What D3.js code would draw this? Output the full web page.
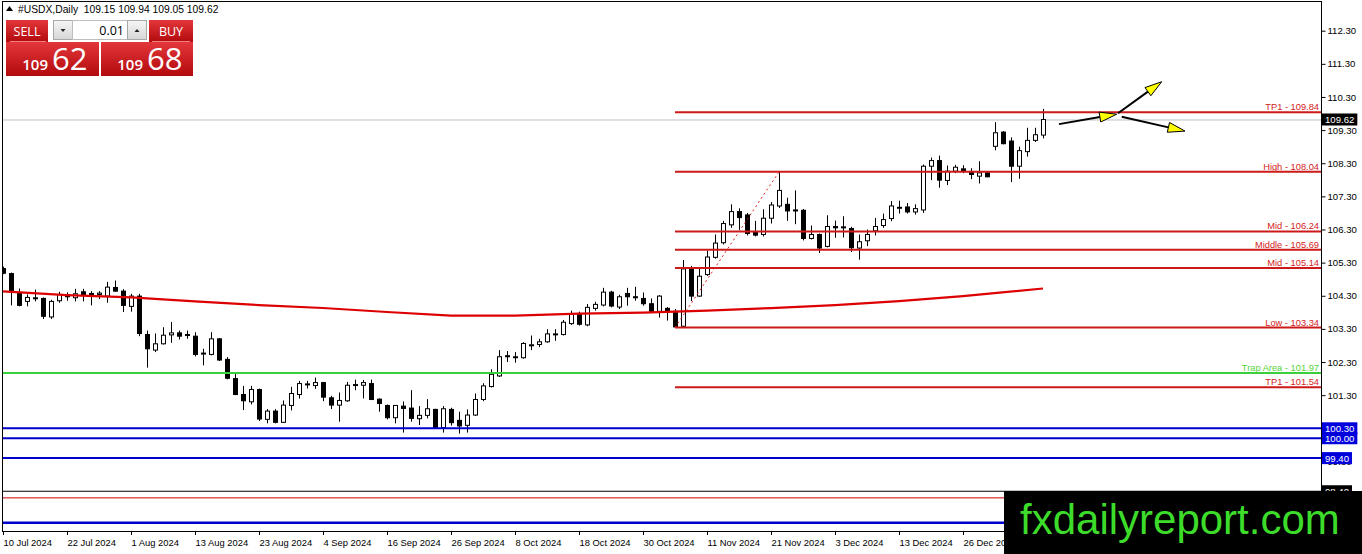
<!DOCTYPE html>
<html lang="en">
<head>
<meta charset="UTF-8">
<title>#USDX, Daily</title>
<script src="https://cdn.jsdelivr.net/npm/d3@7"></script>
<style>
  html, body { margin: 0; padding: 0; background: #fff; }
  svg { display: block; }
</style>
</head>
<body>
<div id="chart"></div>
<script>
// Daily candles [open, high, low, close], bar 0 = 10 Jul 2024
const candles = [
  [105.12,105.18,104.95,104.98],[104.97,105.00,104.01,104.44],[104.39,104.52,103.98,104.01],[104.13,104.34,103.98,104.25],
  [104.23,104.49,104.13,104.24],[104.22,104.25,103.60,103.68],[103.66,104.18,103.60,104.13],[104.15,104.42,104.09,104.34],
  [104.28,104.40,104.15,104.30],[104.24,104.51,104.13,104.36],[104.42,104.51,104.13,104.34],[104.36,104.44,104.01,104.37],
  [104.34,104.44,104.20,104.38],[104.29,104.72,104.09,104.56],[104.55,104.76,104.42,104.44],[104.44,104.50,103.81,104.01],
  [103.98,104.36,103.82,104.29],[104.29,104.36,103.08,103.16],[103.13,103.25,102.13,102.70],[102.66,103.16,102.60,102.85],
  [102.85,103.35,102.83,103.11],[103.12,103.51,102.88,103.18],[103.18,103.25,102.98,103.08],[103.13,103.25,103.00,103.11],
  [103.08,103.20,102.47,102.53],[102.55,102.70,102.20,102.57],[102.53,103.20,102.50,103.00],[103.00,103.02,102.33,102.36],
  [102.38,102.45,101.78,101.81],[101.80,101.95,101.30,101.32],[101.32,101.58,100.85,101.13],[101.10,101.58,101.02,101.47],
  [101.47,101.50,100.52,100.58],[100.57,100.88,100.45,100.82],[100.82,100.88,100.45,100.48],[100.48,101.14,100.46,101.00],
  [100.99,101.55,100.84,101.35],[101.32,101.73,101.20,101.65],[101.62,101.73,101.50,101.64],[101.59,101.83,101.49,101.68],
  [101.68,101.70,101.12,101.24],[101.22,101.28,100.88,101.00],[101.00,101.38,100.50,101.14],[101.13,101.70,101.10,101.60],
  [101.60,101.77,101.45,101.62],[101.60,101.76,101.20,101.68],[101.65,101.77,101.15,101.17],[101.18,101.20,100.80,101.05],
  [100.99,101.02,100.57,100.62],[100.62,101.00,100.45,100.99],[100.97,101.11,100.17,100.90],[100.91,101.45,100.50,100.60],
  [100.59,100.97,100.40,100.69],[100.69,101.18,100.60,100.89],[100.87,100.89,100.30,100.32],[100.32,100.97,100.17,100.89],
  [100.87,100.92,100.38,100.47],[100.54,100.80,100.14,100.37],[100.39,100.87,100.17,100.70],[100.70,101.35,100.67,101.17],
  [101.17,101.66,101.12,101.58],[101.56,102.08,101.53,101.93],[101.88,102.66,101.85,102.46],[102.49,102.63,102.30,102.47],
  [102.44,102.60,102.28,102.46],[102.43,102.90,102.40,102.86],[102.80,103.10,102.66,102.82],[102.83,103.00,102.75,102.91],
  [102.91,103.29,102.88,103.15],[103.13,103.29,102.94,103.15],[103.13,103.57,103.10,103.50],[103.46,103.85,103.42,103.75],
  [103.75,103.82,103.40,103.44],[103.42,104.05,103.38,103.95],[103.92,104.12,103.85,104.04],[104.02,104.54,103.98,104.41],
  [104.41,104.45,103.95,103.99],[103.96,104.33,103.90,104.27],[104.37,104.54,104.00,104.27],[104.27,104.57,104.15,104.25],
  [104.22,104.40,104.00,104.06],[104.06,104.22,103.80,103.83],[103.83,104.32,103.64,104.29],[103.92,103.96,103.55,103.82],
  [103.83,103.90,103.34,103.36],[103.38,105.38,103.34,105.11],[105.12,105.20,104.14,104.29],[104.29,105.12,104.27,104.89],
  [104.94,105.66,104.90,105.47],[105.46,106.15,105.42,105.89],[105.90,106.56,105.85,106.48],[106.44,107.06,106.35,106.84],
  [106.84,106.94,106.29,106.66],[106.74,106.80,106.12,106.18],[106.23,106.56,106.09,106.13],[106.15,106.91,106.09,106.64],
  [106.64,107.13,106.48,107.04],[107.01,108.04,106.95,107.48],[107.06,107.26,106.56,106.86],[106.89,107.48,106.46,106.87],
  [106.88,106.92,105.97,106.03],[106.03,106.42,106.00,106.15],[106.15,106.18,105.59,105.74],[105.79,106.73,105.76,106.39],
  [106.39,106.57,106.05,106.35],[106.36,106.70,106.06,106.38],[106.33,106.38,105.62,105.75],[105.74,106.15,105.39,105.93],
  [105.96,106.30,105.80,106.15],[106.26,106.65,106.12,106.39],[106.42,106.78,106.35,106.60],[106.63,107.16,106.55,107.01],
  [106.95,107.17,106.78,106.97],[106.98,107.10,106.78,106.83],[106.83,107.06,106.75,106.93],[106.89,108.26,106.80,108.21],
  [108.21,108.47,107.79,108.38],[108.38,108.53,107.56,107.79],[107.78,108.23,107.64,108.06],[108.06,108.25,108.00,108.18],
  [108.13,108.24,108.00,108.06],[108.03,108.15,107.82,107.96],[107.91,108.36,107.69,108.01],[108.01,108.02,107.88,107.89],
  [108.81,109.54,108.69,109.22],[109.24,109.27,108.87,108.89],[108.97,109.08,107.73,108.21],[108.21,108.80,107.83,108.68],
  [108.65,109.37,108.50,108.99],[108.99,109.37,108.94,109.16],[109.15,109.94,109.05,109.62]
];

const symbol = '#USDX,Daily';
const bidPrice = 109.62;
const askPrice = 109.68;
const lotSize = '0.01';

// moving average
const maIndex = [0, 8, 16, 24, 32, 40, 48, 56, 64, 72, 80, 88, 96, 104, 112, 120, 130];
const maValues = [104.43, 104.32, 104.25, 104.13, 104.02, 103.93, 103.81, 103.70, 103.70,
                  103.76, 103.79, 103.85, 103.93, 104.02, 104.14, 104.29, 104.52];

// fibonacci levels, drawn from the swing low bar to the right edge
const fibStart = 84;
const fibNames = ['TP1', 'High', 'Mid', 'Middle', 'Mid', 'Low', 'TP1'];
const fibValues = [109.84, 108.04, 106.24, 105.69, 105.14, 103.34, 101.54];
const swingLow = [84, 103.34];
const swingHigh = [97, 108.04];

const trapName = 'Trap Area';
const trapValue = 101.97;

const blueLevels = [100.30, 100.00, 99.40, 97.45];
const blueLabeled = [100.30, 100.00, 99.40];
const blackLevel = 98.40;
const thinRedLevel = 98.20;

const priceTicks = [112.30, 111.30, 110.30, 109.30, 108.30, 107.30, 106.30, 105.30,
                    104.30, 103.30, 102.30, 101.30, 100.30, 99.30];
const dateTickIndex = [0, 8, 16, 24, 32, 40, 48, 56, 64, 72, 80, 88, 96, 104, 112, 120];
const dateTickLabels = ['10 Jul 2024', '22 Jul 2024', '1 Aug 2024', '13 Aug 2024', '23 Aug 2024',
  '4 Sep 2024', '16 Sep 2024', '26 Sep 2024', '8 Oct 2024', '18 Oct 2024', '30 Oct 2024',
  '11 Nov 2024', '21 Nov 2024', '3 Dec 2024', '13 Dec 2024', '26 Dec 2024'];

// hand drawn arrows: [fromBar, fromPrice, toBar, toPrice]
const arrows = [
  [132.0, 109.48, 139.21, 109.78],
  [139.38, 109.81, 144.84, 110.76],
  [139.84, 109.70, 147.75, 109.27]
];

const watermark = 'fxdailyreport.com';

// ---------------------------------------------------------------
const width = 1362, height = 554;
const frame = { left: 2, top: 2, right: 1321, bottom: 531 };
const font = '"Liberation Sans", Arial, sans-serif';
const fibColor = '#cc1a1a';

const svg = d3.select('#chart').append('svg')
  .attr('width', width).attr('height', height)
  .style('font-family', font);

const x = d3.scaleLinear().domain([0, candles.length - 1]).range([3, 1043]);
const y = d3.scaleLinear().domain([100.30, 112.30]).range([428.3, 30.7]);

const defs = svg.append('defs');
defs.append('clipPath').attr('id', 'plotClip').append('rect')
  .attr('x', frame.left).attr('y', frame.top)
  .attr('width', frame.right - frame.left).attr('height', frame.bottom - frame.top);

const red = defs.append('linearGradient').attr('id', 'redGrad').attr('x1', 0).attr('y1', 0).attr('x2', 0).attr('y2', 1);
red.append('stop').attr('offset', '0%').attr('stop-color', '#e3363a');
red.append('stop').attr('offset', '100%').attr('stop-color', '#b20a0e');
const grey = defs.append('linearGradient').attr('id', 'greyGrad').attr('x1', 0).attr('y1', 0).attr('x2', 0).attr('y2', 1);
grey.append('stop').attr('offset', '0%').attr('stop-color', '#f6f6f6');
grey.append('stop').attr('offset', '100%').attr('stop-color', '#d6d6d6');

const plot = svg.append('g').attr('clip-path', 'url(#plotClip)');

// current price line
plot.append('line')
  .attr('x1', frame.left).attr('x2', frame.right)
  .attr('y1', y(bidPrice) + 0.5).attr('y2', y(bidPrice) + 0.5)
  .attr('stroke', '#c0c0c0').attr('stroke-width', 1);

// candles
const bars = plot.append('g').selectAll('g').data(candles).join('g');
bars.append('line')
  .attr('x1', (d, i) => Math.round(x(i)) + 0.5).attr('x2', (d, i) => Math.round(x(i)) + 0.5)
  .attr('y1', d => y(d[1])).attr('y2', d => y(d[2]))
  .attr('stroke', '#000').attr('stroke-width', 1);
bars.append('rect')
  .attr('x', (d, i) => Math.round(x(i)) - 1.5)
  .attr('y', d => y(Math.max(d[0], d[3])))
  .attr('width', 4)
  .attr('height', d => Math.max(1, Math.abs(y(d[0]) - y(d[3]))))
  .attr('fill', d => d[3] >= d[0] ? '#fff' : '#000')
  .attr('stroke', '#000').attr('stroke-width', 1);

// moving average
plot.append('path')
  .datum(maIndex.map((b, i) => [b, maValues[i]]))
  .attr('fill', 'none').attr('stroke', '#dd0000').attr('stroke-width', 2.2)
  .attr('d', d3.line().x(d => x(d[0])).y(d => y(d[1])));

// full width levels
function hline(value, color, w) {
  plot.append('line')
    .attr('x1', frame.left).attr('x2', frame.right)
    .attr('y1', y(value)).attr('y2', y(value))
    .attr('stroke', color).attr('stroke-width', w);
}
hline(trapValue, '#3ccf3c', 2);
blueLevels.forEach((v, i) => hline(v, '#0000cc', i === blueLevels.length - 1 ? 2.6 : 2));
hline(blackLevel, '#000', 1);
hline(thinRedLevel, '#cc0000', 1);

// fibonacci lines
plot.append('g').selectAll('line').data(fibValues).join('line')
  .attr('x1', x(fibStart)).attr('x2', frame.right)
  .attr('y1', d => y(d)).attr('y2', d => y(d))
  .attr('stroke', fibColor).attr('stroke-width', 2);

plot.append('line')
  .attr('x1', x(swingLow[0])).attr('y1', y(swingLow[1]))
  .attr('x2', x(swingHigh[0])).attr('y2', y(swingHigh[1]))
  .attr('stroke', '#dd2222').attr('stroke-width', 1).attr('stroke-dasharray', '2,3');

// level labels, right aligned over the line
const labels = plot.append('g').attr('font-size', 9.3).attr('text-anchor', 'end');
labels.selectAll('text.fib').data(fibValues).join('text')
  .attr('x', frame.right - 2).attr('y', d => y(d) - 2)
  .attr('fill', '#d42222')
  .text((d, i) => `${fibNames[i]} - ${d.toFixed(2)}`);
labels.append('text')
  .attr('x', frame.right - 2).attr('y', y(trapValue) - 2)
  .attr('fill', '#55d43a')
  .text(`${trapName} - ${trapValue.toFixed(2)}`);

// arrows
arrows.forEach(a => {
  const x0 = x(a[0]), y0 = y(a[1]), x1 = x(a[2]), y1 = y(a[3]);
  const ang = Math.atan2(y1 - y0, x1 - x0);
  const len = 17, half = 5;
  const bx = x1 - len * Math.cos(ang), by = y1 - len * Math.sin(ang);
  plot.append('line')
    .attr('x1', x0).attr('y1', y0).attr('x2', bx).attr('y2', by)
    .attr('stroke', '#000').attr('stroke-width', 2);
  plot.append('path')
    .attr('d', `M${x1},${y1}L${bx - half * Math.sin(ang)},${by + half * Math.cos(ang)}L${bx + half * Math.sin(ang)},${by - half * Math.cos(ang)}Z`)
    .attr('fill', '#ffff00').attr('stroke', '#000').attr('stroke-width', 1);
});

// frame
svg.append('rect')
  .attr('x', frame.left + 0.5).attr('y', frame.top - 0.5)
  .attr('width', frame.right - frame.left).attr('height', frame.bottom - frame.top + 1)
  .attr('fill', 'none').attr('stroke', '#000').attr('stroke-width', 1);

// price axis
const yAxis = svg.append('g')
  .attr('transform', `translate(${frame.right + 0.5},0)`)
  .call(d3.axisRight(y).tickValues(priceTicks).tickFormat(d3.format('.2f')).tickSizeInner(4).tickSizeOuter(0));
yAxis.select('.domain').remove();
yAxis.selectAll('text').attr('font-size', 9.6).attr('font-family', font).attr('fill', '#000').attr('x', 6);

// date axis
const xAxis = svg.append('g')
  .attr('transform', `translate(0,${frame.bottom})`)
  .call(d3.axisBottom(x).tickValues(dateTickIndex).tickFormat((d, i) => dateTickLabels[i]).tickSizeInner(4).tickSizeOuter(0));
xAxis.select('.domain').remove();
xAxis.selectAll('text')
  .attr('font-size', 9.4).attr('font-family', font).attr('fill', '#000')
  .attr('text-anchor', 'start').attr('x', 0).attr('y', 15).attr('dy', 0);

// price tags on the axis
function priceTag(value, bg) {
  const g = svg.append('g').attr('transform', `translate(${frame.right + 1},${y(value)})`);
  const t = g.append('text').attr('x', 3).attr('y', 3.5)
    .attr('font-size', 9.6).attr('fill', '#fff').text(value.toFixed(2));
  const w = t.node().getComputedTextLength() + 6;
  g.insert('rect', 'text').attr('x', 0).attr('y', -6).attr('width', w).attr('height', 12).attr('fill', bg);
}
blueLabeled.forEach(v => priceTag(v, '#0000dd'));
priceTag(blackLevel, '#000');
priceTag(bidPrice, '#000');

// header line
svg.append('path').attr('d', 'M6,11L9.5,6L13,11Z').attr('fill', '#000');
const last = candles[candles.length - 1];
svg.append('text').attr('x', 18).attr('y', 13).attr('font-size', 10.3).attr('fill', '#000')
  .attr('xml:space', 'preserve')
  .text(`${symbol}  ${last.map(v => v.toFixed(2)).join(' ')}`);

// one-click trading panel
const panel = svg.append('g').style('font-family', '"Open Sans", "Noto Sans", sans-serif');
panel.append('rect').attr('x', 6).attr('y', 20).attr('width', 42).attr('height', 22).attr('fill', 'url(#redGrad)');
panel.append('rect').attr('x', 149).attr('y', 20).attr('width', 44).attr('height', 22).attr('fill', 'url(#redGrad)');
panel.append('rect').attr('x', 6).attr('y', 42).attr('width', 93).attr('height', 34).attr('fill', 'url(#redGrad)');
panel.append('rect').attr('x', 101).attr('y', 42).attr('width', 92).attr('height', 34).attr('fill', 'url(#redGrad)');
panel.append('line').attr('x1', 10).attr('x2', 46).attr('y1', 41.5).attr('y2', 41.5).attr('stroke', '#f08080').attr('stroke-width', 1);
panel.append('line').attr('x1', 152).attr('x2', 190).attr('y1', 41.5).attr('y2', 41.5).attr('stroke', '#f08080').attr('stroke-width', 1);

panel.append('rect').attr('x', 53.5).attr('y', 20.5).attr('width', 19).attr('height', 19).attr('fill', 'url(#greyGrad)').attr('stroke', '#a8a8a8');
panel.append('rect').attr('x', 72.5).attr('y', 20.5).attr('width', 55).attr('height', 19).attr('fill', '#fff').attr('stroke', '#bdbdbd');
panel.append('rect').attr('x', 127.5).attr('y', 20.5).attr('width', 19).attr('height', 19).attr('fill', 'url(#greyGrad)').attr('stroke', '#a8a8a8');
panel.append('path').attr('d', 'M60.5,29L65.5,29L63,32Z').attr('fill', '#222');
panel.append('path').attr('d', 'M134.5,32L139.5,32L137,29Z').attr('fill', '#222');
panel.append('text').attr('x', 124).attr('y', 35).attr('text-anchor', 'end').attr('font-size', 12.5).attr('fill', '#000').text(lotSize);

panel.append('text').attr('x', 27).attr('y', 36).attr('text-anchor', 'middle').attr('font-size', 12.5).attr('fill', '#fff').text('SELL');
panel.append('text').attr('x', 171).attr('y', 36).attr('text-anchor', 'middle').attr('font-size', 12.5).attr('fill', '#fff').text('BUY');

function bigPrice(p, edge) {
  const s = p.toFixed(2).split('.');
  panel.append('text').attr('x', edge).attr('y', 70).attr('text-anchor', 'end')
    .attr('font-size', 15).attr('font-weight', 600).attr('fill', '#fff').text(s[0]);
  panel.append('text').attr('x', edge + 4).attr('y', 70)
    .attr('font-size', 31).attr('fill', '#fff').text(s[1]);
}
bigPrice(bidPrice, 48);
bigPrice(askPrice, 143);

// watermark
svg.append('rect').attr('x', 1004).attr('y', 491).attr('width', width - 1004).attr('height', height - 491).attr('fill', '#000');
svg.append('text').attr('x', 1020).attr('y', 534).attr('font-size', 42).attr('fill', '#3ddc2b')
  .attr('font-family', font).text(watermark);
</script>
</body>
</html>
